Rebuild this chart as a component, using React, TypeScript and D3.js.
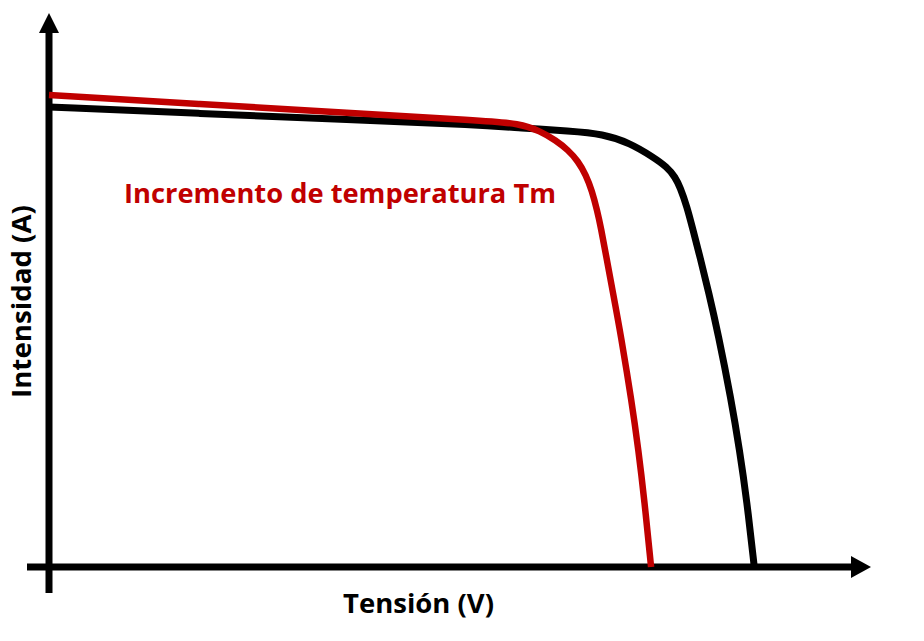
import React from "react";
import * as d3 from "d3";

// Tensión (V) and Intensidad (A) readings, reference curve (black)
const blackV = [0, 9.44, 18.81, 26.94, 29.44, 32.56, 34.63, 36.31, 37.75, 38.63, 39.13, 39.44, 39.88, 40.25, 40.69, 41.24, 41.81, 42.64, 43.16, 43.61, 44.08];
const blackI = [9.2, 9.07, 8.95, 8.84, 8.78, 8.72, 8.66, 8.48, 8.2, 8.0, 7.8, 7.6, 7.2, 6.74, 6.2, 5.48, 4.68, 3.34, 2.34, 1.34, 0];
// Curve with temperature increase (red)
const redV = [0, 9.44, 18.81, 26.94, 29.44, 30.69, 31.69, 32.44, 33.06, 33.56, 33.94, 34.25, 34.5, 34.81, 35.24, 35.74, 36.42, 36.84, 37.21, 37.63];
const redI = [9.44, 9.26, 9.08, 8.93, 8.87, 8.72, 8.53, 8.34, 8.12, 7.84, 7.52, 7.14, 6.78, 6.24, 5.5, 4.64, 3.3, 2.34, 1.34, 0];

const labels = {
  x: "Tensión (V)",
  y: "Intensidad (A)",
  note: "Incremento de temperatura Tm",
};

const W = 924;
const H = 641;

export default function App() {
  const x = d3.scaleLinear().domain([0, 50]).range([49, 849]);
  const y = d3.scaleLinear().domain([0, 10]).range([567, 67]);
  const line = d3
    .line<[number, number]>()
    .x((d) => x(d[0]))
    .y((d) => y(d[1]))
    .curve(d3.curveBasis);

  const black = blackV.map((v, i) => [v, blackI[i]] as [number, number]);
  const red = redV.map((v, i) => [v, redI[i]] as [number, number]);

  const x0 = x(0);
  const y0 = y(0);
  const font = "'Open Sans', 'DejaVu Sans', sans-serif";

  return (
    <svg
      width={W}
      height={H}
      style={{ position: "absolute", left: 0, top: 0, background: "#fff" }}
    >
      {/* y axis */}
      <line x1={x0} x2={x0} y1={593} y2={30} stroke="#000" strokeWidth={7} />
      <polygon points={`${x0 - 10},${33} ${x0 + 10},${33} ${x0},${13}`} fill="#000" />
      {/* x axis */}
      <line x1={27} x2={854} y1={y0} y2={y0} stroke="#000" strokeWidth={7} />
      <polygon points={`${851},${y0 - 11} ${851},${y0 + 11} ${871},${y0}`} fill="#000" />

      <path d={line(black) || ""} fill="none" stroke="#000" strokeWidth={7} strokeLinejoin="round" />
      <path d={line(red) || ""} fill="none" stroke="#C00000" strokeWidth={6.5} strokeLinejoin="round" />

      <text
        x={124}
        y={203}
        fill="#C00000"
        fontFamily={font}
        fontWeight="bold"
        fontSize={26}
        textLength={432}
        lengthAdjust="spacingAndGlyphs"
      >
        {labels.note}
      </text>
      <text
        x={343}
        y={613}
        fill="#000"
        fontFamily={font}
        fontWeight="bold"
        fontSize={27}
        textLength={151}
        lengthAdjust="spacingAndGlyphs"
      >
        {labels.x}
      </text>
      <text
        transform={`translate(31,398) rotate(-90)`}
        fill="#000"
        fontFamily={font}
        fontWeight="bold"
        fontSize={27}
        textLength={193}
        lengthAdjust="spacingAndGlyphs"
      >
        {labels.y}
      </text>
    </svg>
  );
}
